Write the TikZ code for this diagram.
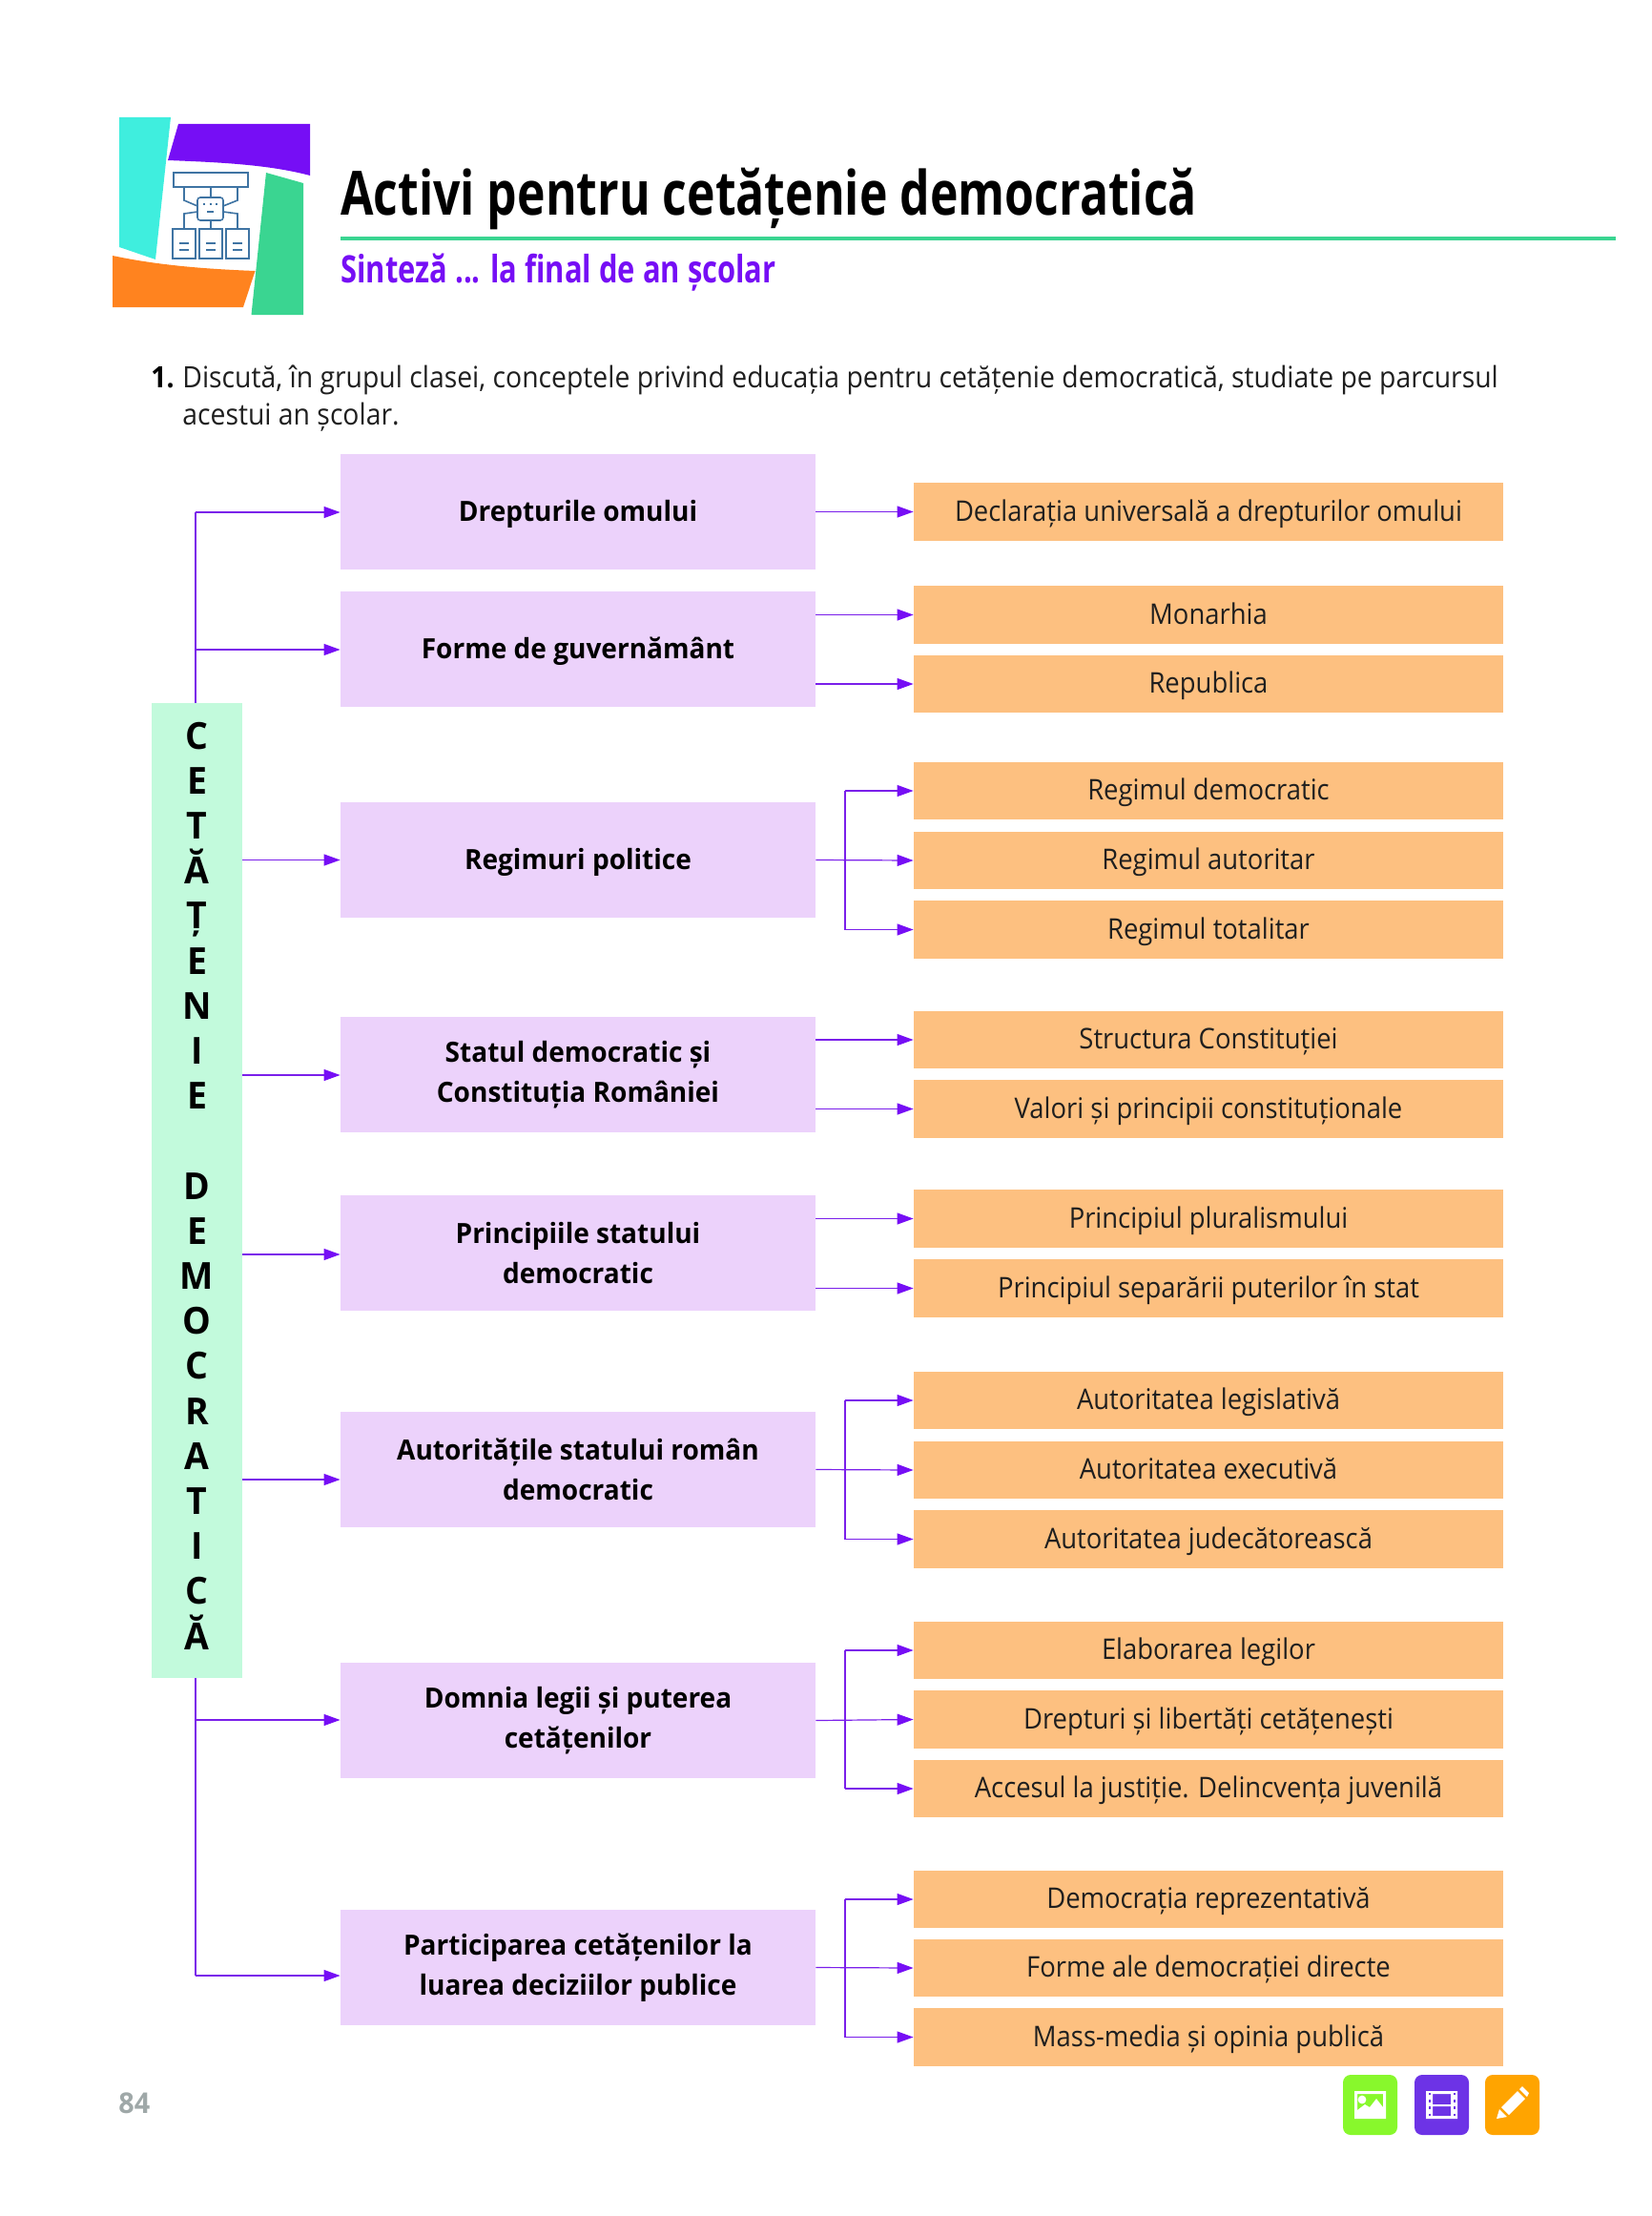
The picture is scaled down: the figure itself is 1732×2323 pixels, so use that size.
\documentclass[tikz,border=0pt]{standalone}
\usepackage{fontspec}
\usetikzlibrary{arrows.meta, calc}
\setmainfont{Open Sans}
\newfontfamily\bodyfont[FakeStretch=0.92]{Open Sans}
\newfontfamily\headfont[FakeStretch=0.96]{Open Sans}
\newfontfamily\titlefont[FakeStretch=0.78]{Open Sans}
\definecolor{violetline}{HTML}{7A1FEA}
\definecolor{pinkfill}{HTML}{ECD2FB}
\definecolor{orangefill}{HTML}{FDC080}
\definecolor{mintfill}{HTML}{C2FADC}
\definecolor{rulegreen}{HTML}{3AD591}
\definecolor{logocyan}{HTML}{3FEEDE}
\definecolor{logoviolet}{HTML}{760EF5}
\definecolor{logoorange}{HTML}{FF831F}
\definecolor{iconblue}{HTML}{3F74A3}
\definecolor{pagegray}{HTML}{9FA8A8}
\definecolor{padgreen}{HTML}{88F82C}
\definecolor{padviolet}{HTML}{6D33E6}
\definecolor{padorange}{HTML}{FFA400}
\begin{document}
\begin{tikzpicture}[x=0.5pt,y=-0.5pt,
  themebox/.style={fill=pinkfill,minimum width=249pt,minimum height=60.5pt,inner sep=0pt,align=center,font=\headfont\bfseries\fontsize{14.6}{20.8}\selectfont},
  oneline/.style={text height=11.5pt,text depth=2pt},
  itembox/.style={fill=orangefill,minimum width=309pt,minimum height=30.25pt,inner sep=0pt,text height=11.5pt,text depth=1.7pt,text=black!88,font=\bodyfont\fontsize{14.9}{18}\selectfont},
  linkline/.style={draw=violetline,line width=0.6pt},
  linkarrow/.style={linkline,-{Triangle[length=8.5pt,width=6pt,color=logoviolet]}},
  iconline/.style={draw=iconblue,line width=0.8pt},
  iconpad/.style={minimum width=28.5pt,minimum height=31.5pt,inner sep=0pt,rounded corners=4pt}]
\useasboundingbox (0,0) rectangle (1732,2323);
% logo
\fill[logocyan] (125,123) -- (179,123) -- (163,272) -- (125,259) -- cycle;
\fill[logoviolet] (187,130) -- (325,130) -- (325,184) .. controls (280,172) and (225,170) .. (176,168) -- cycle;
\fill[rulegreen] (279,181) -- (318,192) -- (318,330) -- (263.5,330) -- cycle;
\fill[logoorange] (118,268) .. controls (165,278) and (215,282) .. (267.5,284) -- (255,322) -- (118,322) -- cycle;
\draw[iconline,fill=white] (182,181) rectangle (260,196);
\draw[iconline] (193,196) -- (193,210) -- (207,216) (221,196) -- (221,207) (249,196) -- (249,210) -- (234,216);
\draw[iconline] (207,222) -- (193,224) -- (193,240) (234,222) -- (249,224) -- (249,240) (221,231) -- (221,240);
\draw[iconline,fill=white,rounded corners=1.5pt] (207,207) rectangle (234,231);
\draw[iconline] (213,214) -- (215,214) (219.5,214) -- (221.5,214) (226,214) -- (228,214) (217,222) -- (224,222);
\draw[iconline] (181,240) rectangle (205,271) (209,240) rectangle (233,271) (237,240) rectangle (261,271);
\draw[iconline] (188,255) -- (198,255) (216,255) -- (226,255) (244,255) -- (254,255) (188,262) -- (198,262) (216,262) -- (226,262) (244,262) -- (254,262);
% heading
\node[anchor=base west,inner sep=0pt,font=\titlefont\bfseries\fontsize{32}{36}\selectfont] (title) at (357,225) {Activi pentru cetățenie democratică};
\coordinate (ruleleft) at (357,250);
\coordinate (ruleright) at (1694,250);
\draw[rulegreen,line width=2pt] (ruleleft) -- (ruleright);
\node[anchor=base west,inner sep=0pt,text=logoviolet,font=\titlefont\bfseries\fontsize{19.8}{24}\selectfont] (subtitle) at (357,296) {Sinteză ... la final de an școlar};
% task
\node[anchor=base west,inner sep=0pt,font=\bodyfont\bfseries\fontsize{15.4}{18}\selectfont] (tasknum) at (158,406) {1.};
\node[anchor=base west,inner sep=0pt,text=black!88,font=\bodyfont\fontsize{15.4}{18}\selectfont] (taskone) at (191,406) {Discută, în grupul clasei, conceptele privind educația pentru cetățenie democratică, studiate pe parcursul};
\node[anchor=base west,inner sep=0pt,text=black!88,font=\bodyfont\fontsize{15.4}{18}\selectfont] (tasktwo) at (191,445) {acestui an școlar.};
% main bar
\node[fill=mintfill,minimum width=47.5pt,minimum height=511pt,inner sep=0pt] (cetatenie) at (206.5,1248) {};
\node[inner sep=0pt,yshift=2.5pt,align=center,font=\headfont\bfseries\fontsize{19.5}{23.6}\selectfont] (barword) at (cetatenie.center) {C\\E\\T\\Ă\\Ț\\E\\N\\I\\E\\[23.6pt]D\\E\\M\\O\\C\\R\\A\\T\\I\\C\\Ă};
% themes
\node[themebox,oneline] (drepturi) at (606,536.5) {Drepturile omului};
\node[themebox,oneline] (forme) at (606,680.5) {Forme de guvernământ};
\node[themebox,oneline] (regimuri) at (606,901.5) {Regimuri politice};
\node[themebox] (statul) at (606,1126.5) {Statul democratic și\\Constituția României};
\node[themebox] (principii) at (606,1313.5) {Principiile statului\\democratic};
\node[themebox] (autoritati) at (606,1540.5) {Autoritățile statului român\\democratic};
\node[themebox] (domnia) at (606,1803.5) {Domnia legii și puterea\\cetățenilor};
\node[themebox] (participare) at (606,2062.5) {Participarea cetățenilor la\\luarea deciziilor publice};
% items
\node[itembox] (declaratia) at (1267,536.5) {Declarația universală a drepturilor omului};
\node[itembox] (monarhia) at (1267,644.5) {Monarhia};
\node[itembox] (republica) at (1267,717) {Republica};
\node[itembox] (democratic) at (1267,829) {Regimul democratic};
\node[itembox] (autoritar) at (1267,902) {Regimul autoritar};
\node[itembox] (totalitar) at (1267,974.5) {Regimul totalitar};
\node[itembox] (structura) at (1267,1090) {Structura Constituției};
\node[itembox] (valori) at (1267,1162.5) {Valori și principii constituționale};
\node[itembox] (pluralism) at (1267,1277.5) {Principiul pluralismului};
\node[itembox] (separare) at (1267,1350.5) {Principiul separării puterilor în stat};
\node[itembox] (legislativa) at (1267,1468) {Autoritatea legislativă};
\node[itembox] (executiva) at (1267,1541) {Autoritatea executivă};
\node[itembox] (judecatoreasca) at (1267,1613.5) {Autoritatea judecătorească};
\node[itembox] (legi) at (1267,1730) {Elaborarea legilor};
\node[itembox] (libertati) at (1267,1802.5) {Drepturi și libertăți cetățenești};
\node[itembox] (justitie) at (1267,1875) {Accesul la justiție. Delincvența juvenilă};
\node[itembox] (reprezentativa) at (1267,1991) {Democrația reprezentativă};
\node[itembox] (directe) at (1267,2063) {Forme ale democrației directe};
\node[itembox] (media) at (1267,2135.5) {Mass-media și opinia publică};
% trunk above and below the bar
\coordinate (trunktop) at (205,537);
\coordinate (trunkmid) at (205,681);
\coordinate (trunkdom) at (205,1803);
\coordinate (trunkend) at (205,2071);
\draw[linkline] (trunktop |- cetatenie.north) -- (trunktop);
\draw[linkline] (trunkend |- cetatenie.south) -- (trunkend);
\draw[linkarrow] (trunktop) -- (trunktop -| drepturi.west);
\draw[linkarrow] (trunkmid) -- (trunkmid -| forme.west);
\draw[linkarrow] (trunkdom) -- (trunkdom -| domnia.west);
\draw[linkarrow] (trunkend) -- (trunkend -| participare.west);
% bar to themes
\coordinate (fromstat) at (254,1127);
\coordinate (fromprinc) at (254,1315);
\coordinate (fromauto) at (254,1551);
\draw[linkarrow] (cetatenie.east |- regimuri.west) -- (regimuri.west);
\draw[linkarrow] (fromstat) -- (fromstat -| statul.west);
\draw[linkarrow] (fromprinc) -- (fromprinc -| principii.west);
\draw[linkarrow] (fromauto) -- (fromauto -| autoritati.west);
% themes to items, straight
\draw[linkarrow] (drepturi.east |- declaratia.west) -- (declaratia.west);
\draw[linkarrow] (forme.east |- monarhia.west) -- (monarhia.west);
\draw[linkarrow] (forme.east |- republica.west) -- (republica.west);
\draw[linkarrow] (statul.east |- structura.west) -- (structura.west);
\draw[linkarrow] (statul.east |- valori.west) -- (valori.west);
\draw[linkarrow] (principii.east |- pluralism.west) -- (pluralism.west);
\draw[linkarrow] (principii.east |- separare.west) -- (separare.west);
% themes to items, forks
\coordinate (forkx) at (886,0);
\draw[linkarrow] (regimuri.east) -- (autoritar.west);
\draw[linkarrow] (forkx |- democratic.west) -- (democratic.west);
\draw[linkarrow] (forkx |- totalitar.west) -- (totalitar.west);
\draw[linkline] (forkx |- democratic.west) -- (forkx |- totalitar.west);
\draw[linkarrow] (autoritati.east) -- (executiva.west);
\draw[linkarrow] (forkx |- legislativa.west) -- (legislativa.west);
\draw[linkarrow] (forkx |- judecatoreasca.west) -- (judecatoreasca.west);
\draw[linkline] (forkx |- legislativa.west) -- (forkx |- judecatoreasca.west);
\draw[linkarrow] (domnia.east) -- (libertati.west);
\draw[linkarrow] (forkx |- legi.west) -- (legi.west);
\draw[linkarrow] (forkx |- justitie.west) -- (justitie.west);
\draw[linkline] (forkx |- legi.west) -- (forkx |- justitie.west);
\draw[linkarrow] (participare.east) -- (directe.west);
\draw[linkarrow] (forkx |- reprezentativa.west) -- (reprezentativa.west);
\draw[linkarrow] (forkx |- media.west) -- (media.west);
\draw[linkline] (forkx |- reprezentativa.west) -- (forkx |- media.west);
% page foot
\node[anchor=base west,inner sep=0pt,text=pagegray,font=\headfont\bfseries\fontsize{15}{18}\selectfont] (pagenum) at (124,2215) {84};
\node[iconpad,fill=padgreen] (imgicon) at (1436.5,2206.5) {};
\node[iconpad,fill=padviolet] (filmicon) at (1511.5,2206.5) {};
\node[iconpad,fill=padorange] (penicon) at (1585.5,2206.5) {};
\fill[white,even odd rule] (1420,2192) rectangle (1453,2221) (1423,2195) rectangle (1450,2212);
\fill[white] (1428,2201) circle (2.2pt);
\fill[white] (1423,2212) -- (1431,2206) -- (1436,2209) -- (1443,2200) -- (1450,2209) -- (1450,2215) -- (1423,2215) -- cycle;
\fill[white,even odd rule] (1495,2192) rectangle (1528,2221) (1502,2195) rectangle (1521,2206) (1502,2208) rectangle (1521,2218);
\draw[padviolet,line width=1pt,dash pattern=on 1.2pt off 2.4pt] (1498.5,2194) -- (1498.5,2221) (1524.5,2194) -- (1524.5,2221);
\fill[white] (1574,2209) -- (1591,2192) -- (1599,2200) -- (1582,2217) -- cycle;
\fill[white] (1569,2221) -- (1572,2211) -- (1580,2219) -- cycle;
\fill[white] (1593,2190) -- (1596,2187) -- (1603,2194) -- (1601,2198) -- cycle;
\end{tikzpicture}
\end{document}
